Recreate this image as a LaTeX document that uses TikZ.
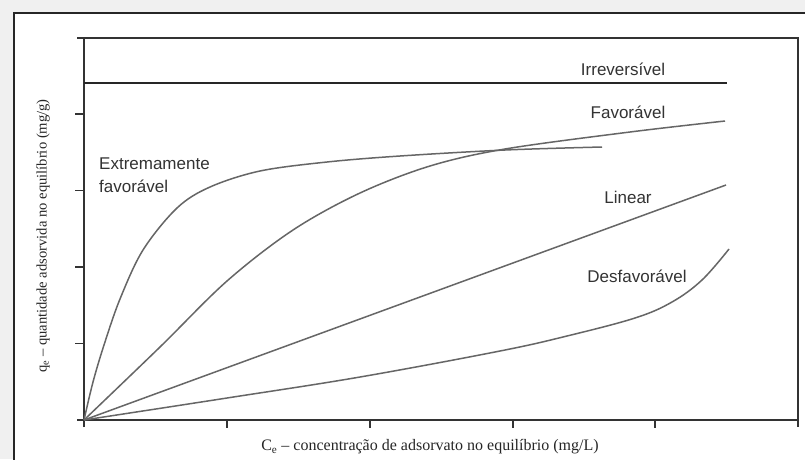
\documentclass[tikz,border=0pt]{standalone}
\usepackage{fontspec}
\setmainfont{Liberation Serif}
\newfontfamily\labelfont{Liberation Sans}
\begin{document}
\begin{tikzpicture}[x=1pt,y=-1pt,
  frameline/.style={draw=black!85,line width=1.1pt},
  axisline/.style={draw=black!80,line width=1.4pt},
  tickline/.style={draw=black!80,line width=1.3pt},
  isotherm/.style={draw=black!60,line width=1.5pt,line join=round},
  limitline/.style={draw=black!85,line width=2.1pt},
  curvelabel/.style={font=\labelfont\fontsize{17}{23}\selectfont,text=black!80,inner sep=0pt},
  axislabel/.style={text=black!85,inner sep=0pt}]
% page background and sheet
\fill[black!6] (0,0) rectangle (805,459);
\useasboundingbox (0,0) rectangle (805,459);
\fill[white] (14,13) rectangle (812,470);
\draw[frameline] (14,470) -- (14,13) -- (812,13);

% axes box
\draw[axisline] (84,427) -- (84,38);
\draw[axisline] (77,420) -- (798,420);
\draw[axisline] (77,38) -- (798,38) -- (798,427);
\foreach \yy in {114,190.5,267,343.5} \draw[tickline] (75,\yy) -- (84,\yy);
\foreach \xx in {227,370,513,655} \draw[tickline] (\xx,420) -- (\xx,428);

% isotherms
\draw[isotherm] plot[smooth,tension=0.55] coordinates {(84,420) (93,382) (104,345) (120,299) (143,250) (177,208) (210,187) (260,171) (327,162) (400,156) (505,150) (602,147)};
\draw[isotherm] plot[smooth,tension=0.55] coordinates {(84,420) (160,347) (227,281) (293,230) (360,193) (430,166) (505,149) (630,132) (725,121)};
\draw[isotherm] (84,420) -- (726,185);
\draw[isotherm] plot[smooth,tension=0.6] coordinates {(84,420) (227,398) (360,377) (500,351) (567,336) (635,318) (672,302) (702,280) (729,249)};
\draw[limitline] (84,83) -- (727,83);

% curve labels
\node[curvelabel] (irr) at (623,69) {Irreversível};
\node[curvelabel] (fav) at (628,112) {Favorável};
\node[curvelabel,align=left,anchor=west] (ext) at (99,175) {Extremamente\\favorável};
\node[curvelabel] (lin) at (628,197) {Linear};
\node[curvelabel] (des) at (637,276) {Desfavorável};

% axis titles
\node[axislabel,font=\fontsize{16}{18}\selectfont] (xlab) at (430,447) {C\textsubscript{e} -- concentração de adsorvato no equilíbrio (mg/L)};
\node[axislabel,font=\fontsize{14.6}{16}\selectfont,rotate=90] (ylab) at (43,236) {q\textsubscript{e} -- quantidade adsorvida no equilíbrio (mg/g)};
\end{tikzpicture}
\end{document}
